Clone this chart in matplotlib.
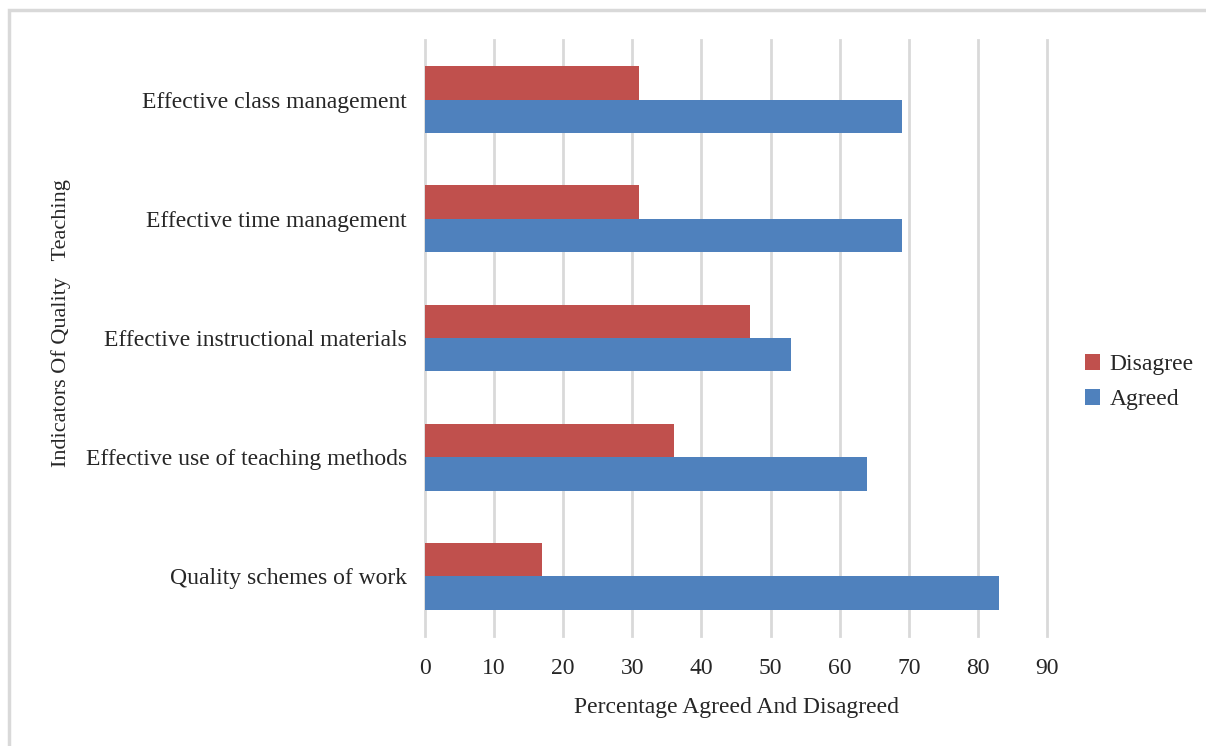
import matplotlib.pyplot as plt
import numpy as np
from matplotlib.patches import Rectangle

categories = ["Quality schemes of work", "Effective use of teaching methods",
              "Effective instructional materials", "Effective time management",
              "Effective class management"]
disagree = [17, 36, 47, 31, 31]
agreed = [83, 64, 53, 69, 69]
x_ticks = [0, 10, 20, 30, 40, 50, 60, 70, 80, 90]

plt.rcParams['font.family'] = ['Liberation Serif', 'DejaVu Serif']
fs = 17

fig = plt.figure(figsize=(12.06, 7.46), dpi=100)
ax = fig.add_axes([0.3524, 0.1475, 0.5158, 0.7989])

# light frame round the chart area
fig.patches.append(Rectangle((9 / 1206, -0.05), 1.1, 1 - 10 / 746 + 0.05,
                             transform=fig.transFigure, fill=False,
                             edgecolor='#d9d9d9', linewidth=2.5))

y = np.arange(len(categories))
h = 0.28
ax.barh(y + h / 2, disagree, h, color='#C0504D', label='Disagree', zorder=3)
ax.barh(y - h / 2, agreed, h, color='#4F81BD', label='Agreed', zorder=3)

ax.set_xlim(0, 90)
ax.set_ylim(-0.5, 4.5)
ax.set_xticks(x_ticks)
ax.set_yticks(y)
ax.set_yticklabels(categories)
ax.xaxis.grid(True, color='#d9d9d9', linewidth=2, zorder=0)
for gl in ax.get_xgridlines():
    gl.set_clip_on(False)
ax.tick_params(axis='both', length=0, labelsize=fs, colors='#262626')
ax.tick_params(axis='x', pad=16)
ax.tick_params(axis='y', pad=13)
for s in ax.spines.values():
    s.set_visible(False)

ax.set_xlabel("Percentage Agreed And Disagreed", fontsize=fs, color='#262626', labelpad=13)
fig.text(61 / 1206, 1 - 323 / 746, "Indicators Of Quality   Teaching", rotation=90,
         fontsize=16, color='#262626', ha='center', va='center')

handles, labels = ax.get_legend_handles_labels()
fig.legend(handles, labels, loc='center left', bbox_to_anchor=(1066 / 1206, 1 - 382 / 746),
           frameon=False, fontsize=fs, handlelength=0.65, handleheight=0.65,
           handletextpad=0.4, labelspacing=0.6, borderpad=0.3, labelcolor='#262626')

fig.savefig('out.png', dpi=100)
